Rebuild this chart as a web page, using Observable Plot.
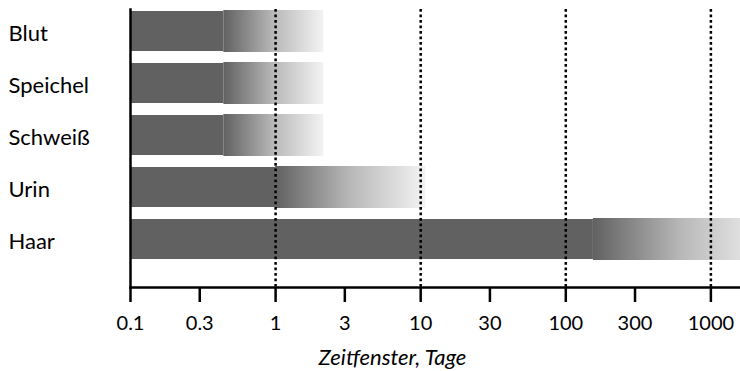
<!DOCTYPE html>
<html>
<head>
<meta charset="utf-8">
<script src="https://cdn.jsdelivr.net/npm/d3@7"></script>
<script src="https://cdn.jsdelivr.net/npm/@observablehq/plot@0.6"></script>
<style>
  html, body { margin: 0; padding: 0; background: #fff; }
  #chart svg { display: block; }
</style>
</head>
<body>
<div id="chart"></div>
<script>
// Data
const categories = ["Blut", "Speichel", "Schweiß", "Urin", "Haar"];
const windowStart = [0.1, 0.1, 0.1, 0.1, 0.1];
const solidEnd = [0.44, 0.44, 0.44, 1.0, 155];
const fadeEnd = [2.15, 2.15, 2.15, 10.8, 2560];
const tickValues = [0.1, 0.3, 1, 3, 10, 30, 100, 300, 1000];
const tickLabels = ["0.1", "0.3", "1", "3", "10", "30", "100", "300", "1000"];
const gridValues = [1, 10, 100, 1000];
const axisTitle = "Zeitfenster, Tage";

const rows = categories.map((c, i) => ({
  cat: c, start: windowStart[i], solid: solidEnd[i], fade: fadeEnd[i]
}));
const ticks = tickValues.map((v, i) => ({ v, label: tickLabels[i] }));

const font = "Lato, 'Open Sans', sans-serif";

const svg = Plot.plot({
  width: 740,
  height: 371,
  marginLeft: 130,
  marginRight: 0,
  marginTop: 9,
  marginBottom: 84,
  style: { fontFamily: font, background: "#fff", color: "#000" },
  x: { type: "log", domain: [0.1, 1600], axis: null },
  y: { domain: categories, range: [10, 260], paddingInner: 0.24, paddingOuter: 0, axis: null },
  marks: [
    Plot.barX(rows, { y: "cat", x1: "start", x2: "solid", fill: "#616161" }),
    Plot.barX(rows, { y: "cat", x1: "solid", x2: "fade", fill: "url(#fade)", insetTop: -1, insetBottom: -1, clip: true }),
    Plot.ruleX(gridValues, { stroke: "#000", strokeWidth: 2.5, strokeDasharray: "2.75,2.75" }),
    Plot.frame({ anchor: "left", stroke: "#000", strokeWidth: 2.5 }),
    Plot.frame({ anchor: "bottom", stroke: "#000", strokeWidth: 2.5 }),
    Plot.axisX({
      ticks: tickValues,
      tickFormat: () => "",
      tickSize: 15,
      strokeWidth: 2.5,
      label: null
    }),
    Plot.text(ticks, {
      x: "v", text: "label", frameAnchor: "bottom", dy: 36,
      lineAnchor: "middle", fontSize: 20, fill: "#000"
    }),
    Plot.text(categories, {
      y: (d) => d, text: (d) => d, frameAnchor: "left", dx: -122, dy: 2,
      textAnchor: "start", fontSize: 22, fill: "#000"
    }),
    Plot.text([axisTitle], {
      text: (d) => d, frameAnchor: "bottom", dx: -43, dy: 70,
      lineAnchor: "middle", fontSize: 22, fontStyle: "italic", fill: "#000"
    })
  ]
});

const defs = d3.select(svg).insert("defs", ":first-child");
const grad = defs.append("linearGradient").attr("id", "fade")
  .attr("x1", "0").attr("x2", "1").attr("y1", "0").attr("y2", "0");
grad.append("stop").attr("offset", "0").attr("stop-color", "#616161");
grad.append("stop").attr("offset", "0.5").attr("stop-color", "#b8b8b8");
grad.append("stop").attr("offset", "1").attr("stop-color", "#f3f3f3");

document.getElementById("chart").appendChild(svg);
</script>
</body>
</html>
